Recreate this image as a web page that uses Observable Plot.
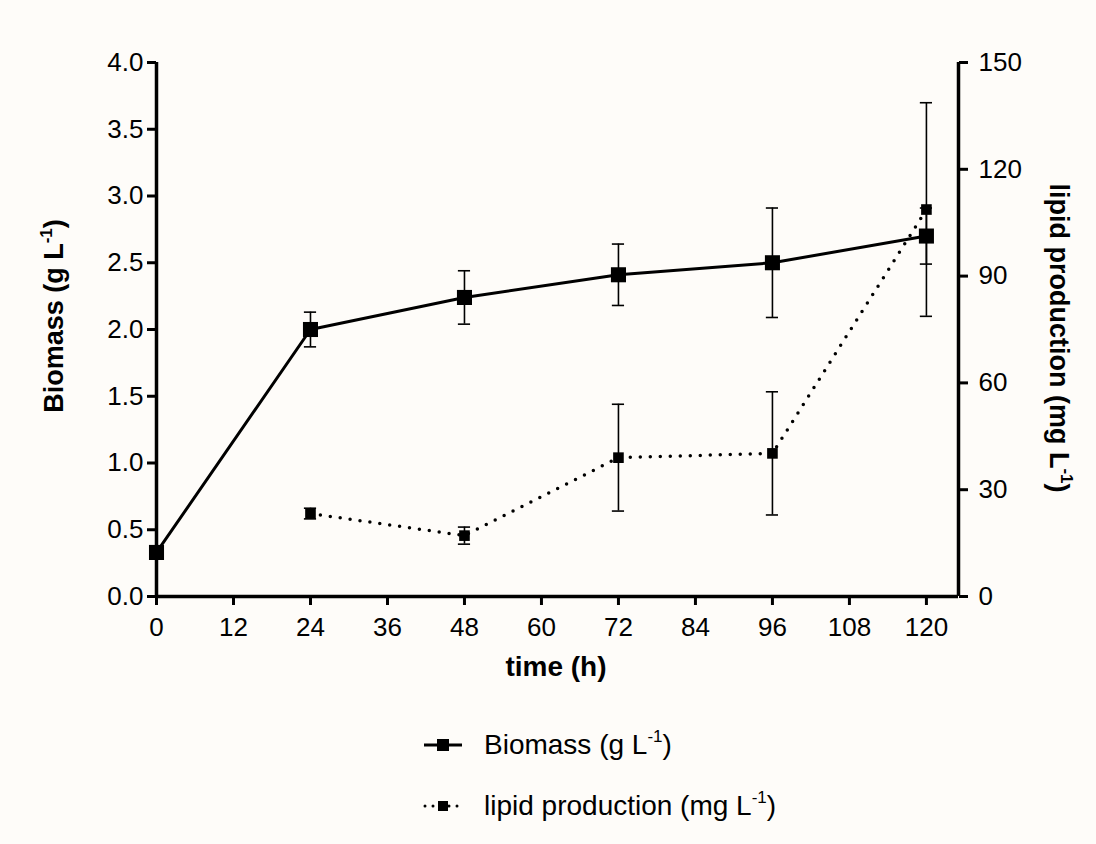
<!DOCTYPE html>
<html>
<head>
<meta charset="utf-8">
<script src="https://cdn.jsdelivr.net/npm/d3@7"></script>
<script src="https://cdn.jsdelivr.net/npm/@observablehq/plot@0.6"></script>
<style>
  body { margin: 0; background: #fefcf9; font-family: "Liberation Sans", Arial, sans-serif; color: #000; }
  #wrap { position: relative; width: 1096px; height: 844px; }
  #legend { position: absolute; left: 420px; top: 714px; font-size: 28px; }
  .row { display: flex; align-items: center; height: 61px; }
  .row svg { margin-right: 20px; }
  sup { font-size: 17px; vertical-align: 12px; line-height: 0; }
</style>
</head>
<body>
<div id="wrap">
  <div id="chart"></div>
  <div id="legend">
    <div class="row"><svg width="44" height="20"><line x1="4" x2="42" y1="10" y2="10" stroke="#000" stroke-width="3"/><rect x="17" y="4" width="12" height="12" fill="#000"/></svg><span>Biomass (g L<sup>-1</sup>)</span></div>
    <div class="row"><svg width="44" height="20"><line x1="5" x2="40" y1="10" y2="10" stroke="#000" stroke-width="3" stroke-dasharray="0 8" stroke-linecap="round"/><rect x="18" y="5" width="10" height="10" fill="#000"/></svg><span>lipid production (mg L<sup>-1</sup>)</span></div>
  </div>
</div>
<script>
// Data
const time = [0, 24, 48, 72, 96, 120];
const biomass = [0.33, 2.0, 2.24, 2.41, 2.50, 2.70];
const biomassErr = [0, 0.13, 0.20, 0.23, 0.41, 0.21];
const lipidTime = [24, 48, 72, 96, 120];
const lipid = [23.3, 17.1, 39.0, 40.2, 108.7];
const lipidErr = [1.5, 2.4, 15.0, 17.3, 30.0];
const leftTicks = [0, 0.5, 1.0, 1.5, 2.0, 2.5, 3.0, 3.5, 4.0];
const rightTicks = [0, 30, 60, 90, 120, 150];
const xTicks = [0, 12, 24, 36, 48, 60, 72, 84, 96, 108, 120];

const leftMax = 4, rightMax = 150;
const toLeft = v => v * leftMax / rightMax;

const bio = time.map((t, i) => ({t, v: biomass[i], lo: biomass[i] - biomassErr[i], hi: biomass[i] + biomassErr[i]}));
const lip = lipidTime.map((t, i) => ({t, v: toLeft(lipid[i]), lo: toLeft(lipid[i] - lipidErr[i]), hi: toLeft(lipid[i] + lipidErr[i])}));
const capHalf = 0.95;
const bioErr = bio.filter(d => d.hi > d.lo);

const plot = Plot.plot({
  width: 1096,
  height: 700,
  marginLeft: 156,
  marginRight: 138,
  marginTop: 62,
  marginBottom: 104,
  style: {background: "transparent", fontSize: "26px", fontFamily: "'Liberation Sans', Arial, sans-serif", color: "#000"},
  x: {domain: [0, 125]},
  y: {domain: [0, leftMax]},
  marks: [
    Plot.axisY({anchor: "left", ticks: leftTicks, tickFormat: d3.format(".1f"), tickSize: 9, tickPadding: 4, strokeWidth: 3, label: null}),
    Plot.axisY({anchor: "right", ticks: rightTicks.map(toLeft), tickFormat: d => Math.round(d * rightMax / leftMax), tickSize: 9, tickPadding: 11, strokeWidth: 3, label: null}),
    Plot.axisX({ticks: xTicks, tickSize: 9, tickPadding: 12, strokeWidth: 3, label: null}),
    Plot.ruleX([0], {strokeWidth: 3.5}),
    Plot.ruleX([125], {strokeWidth: 3.5}),
    Plot.ruleY([0], {strokeWidth: 3.5}),
    // lipid
    Plot.line(lip, {x: "t", y: "v", strokeWidth: 3.5, strokeDasharray: "0 10", strokeLinecap: "round"}),
    Plot.ruleX(lip, {x: "t", y1: "lo", y2: "hi", strokeWidth: 1.6}),
    Plot.ruleY(lip, {y: "lo", x1: d => d.t - capHalf, x2: d => d.t + capHalf, strokeWidth: 1.6}),
    Plot.ruleY(lip, {y: "hi", x1: d => d.t - capHalf, x2: d => d.t + capHalf, strokeWidth: 1.6}),
    Plot.dot(lip, {x: "t", y: "v", symbol: "square", r: 6, fill: "#000", stroke: null}),
    // biomass
    Plot.line(bio, {x: "t", y: "v", strokeWidth: 3}),
    Plot.ruleX(bioErr, {x: "t", y1: "lo", y2: "hi", strokeWidth: 1.6}),
    Plot.ruleY(bioErr, {y: "lo", x1: d => d.t - capHalf, x2: d => d.t + capHalf, strokeWidth: 1.6}),
    Plot.ruleY(bioErr, {y: "hi", x1: d => d.t - capHalf, x2: d => d.t + capHalf, strokeWidth: 1.6}),
    Plot.dot(bio, {x: "t", y: "v", symbol: "square", r: 8.5, fill: "#000", stroke: null})
  ]
});

const svg = d3.select(plot);
const font = "'Liberation Sans', Arial, sans-serif";
function title(sel, main) {
  sel.attr("text-anchor", "middle").attr("font-family", font).attr("font-weight", "bold")
     .attr("font-size", 27).attr("fill", "#000");
  sel.append("tspan").text(main);
  sel.append("tspan").attr("dy", -11).attr("font-size", 17).text("-1");
  sel.append("tspan").attr("dy", 11).text(")");
}
title(svg.append("text").attr("transform", "translate(63,316) rotate(-90)"), "Biomass (g L");
title(svg.append("text").attr("transform", "translate(1050,338) rotate(90)"), "lipid production (mg L");

svg.append("text").attr("x", 556).attr("y", 676).attr("text-anchor", "middle")
  .attr("font-family", font).attr("font-weight", "bold").attr("font-size", 28).attr("fill", "#000").text("time (h)");

document.getElementById("chart").appendChild(plot);
</script>
</body>
</html>
